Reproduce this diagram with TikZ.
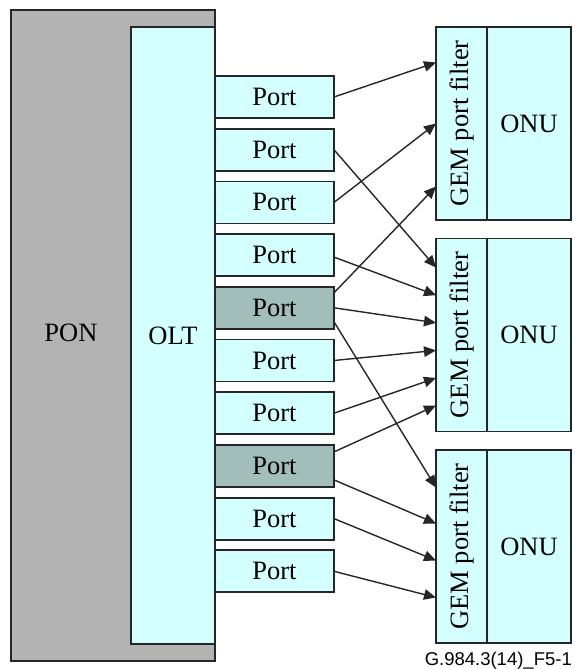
\documentclass[tikz,border=0pt]{standalone}
\usepackage{fontspec}
\setmainfont{Liberation Serif}
\newfontfamily\capfont{Liberation Sans}
\usepackage{xcolor}
\usepackage{tikz}
\usetikzlibrary{positioning, arrows.meta}
\definecolor{cyanbox}{RGB}{212,255,255}
\definecolor{pongray}{RGB}{179,179,179}
\definecolor{portgray}{RGB}{162,190,187}
\tikzset{
    box/.style={rectangle, draw=black!85, line width=1.8pt, fill=cyanbox, outer sep=0pt, inner sep=0pt, align=center, font=\fontsize{26.5}{30}\selectfont},
    ponbox/.style={box, fill=pongray},
    port/.style={box, minimum width=119pt, minimum height=42pt},
    busy/.style={port, fill=portgray},
    filter/.style={box, minimum width=51pt, minimum height=193pt},
    onu/.style={box, minimum width=84pt, minimum height=193pt},
    title/.style={font=\fontsize{26.5}{30}\selectfont},
    caption/.style={font=\capfont\fontsize{18.5}{20}\selectfont, inner sep=0pt},
    arrow/.style={-{Triangle[length=12pt,width=10.5pt]}, line width=1.4pt, draw=black!85}
}
\begin{document}
\begin{tikzpicture}[x=1pt, y=-1pt]
        \useasboundingbox (0,0) rectangle (574,669);
        % PON and OLT
        \node[ponbox, minimum width=204pt, minimum height=651pt, anchor=north west] (PON) at (11,10) {};
        \node[title] (PONtxt) at (71,333) {PON};
        \node[box, minimum width=84pt, minimum height=617pt, anchor=north west] (OLT) at (131,27) {OLT};
        
        % Ports
        \node[port, anchor=north west] (P1) at (215,76) {Port};
        \node[port, below=10.7pt of P1] (P2) {Port};
        \node[port, below=10.7pt of P2] (P3) {Port};
        \node[port, below=10.7pt of P3] (P4) {Port};
        \node[busy, below=10.7pt of P4] (P5) {Port};
        \node[port, below=10.7pt of P5] (P6) {Port};
        \node[port, below=10.7pt of P6] (P7) {Port};
        \node[busy, below=10.7pt of P7] (P8) {Port};
        \node[port, below=10.7pt of P8] (P9) {Port};
        \node[port, below=10.7pt of P9] (P10) {Port};
        
        % ONUs with GEM port filters
        \node[filter, anchor=north west] (F1) at (436,27) {\rotatebox{90}{GEM port filter}};
        \node[onu, right=0pt of F1] (ONU1) {ONU};
        \node[filter, below=18.5pt of F1] (F2) {\rotatebox{90}{GEM port filter}};
        \node[onu, right=0pt of F2] (ONU2) {ONU};
        \node[filter, below=18.5pt of F2] (F3) {\rotatebox{90}{GEM port filter}};
        \node[onu, right=0pt of F3] (ONU3) {ONU};
        
        % Port to filter connections
        \draw[arrow] (P1.east) -- ([yshift=61pt]F1.west);
        \draw[arrow] (P2.east) -- ([yshift=67.5pt]F2.west);
        \draw[arrow] (P3.east) -- (F1.west);
        \draw[arrow] ([yshift=-2pt]P4.east) -- ([yshift=39.8pt]F2.west);
        \draw[arrow] ([yshift=15pt]P5.east) -- ([yshift=-63pt]F1.west);
        \draw[arrow] (P5.east) -- ([yshift=12.2pt]F2.west);
        \draw[arrow] ([yshift=-14pt]P5.east) -- ([yshift=59pt]F3.west);
        \draw[arrow] (P6.east) -- ([yshift=-15.4pt]F2.west);
        \draw[arrow] (P7.east) -- ([yshift=-43pt]F2.west);
        \draw[arrow] ([yshift=14pt]P8.east) -- ([yshift=-70.5pt]F2.west);
        \draw[arrow] ([yshift=-14pt]P8.east) -- ([yshift=23pt]F3.west);
        \draw[arrow] (P9.east) -- ([yshift=-14pt]F3.west);
        \draw[arrow] (P10.east) -- ([yshift=-51pt]F3.west);
        
        \node[caption, anchor=base east] (Cap) at (572,665) {G.984.3(14)\_F5-1};
    \end{tikzpicture}
\end{document}
